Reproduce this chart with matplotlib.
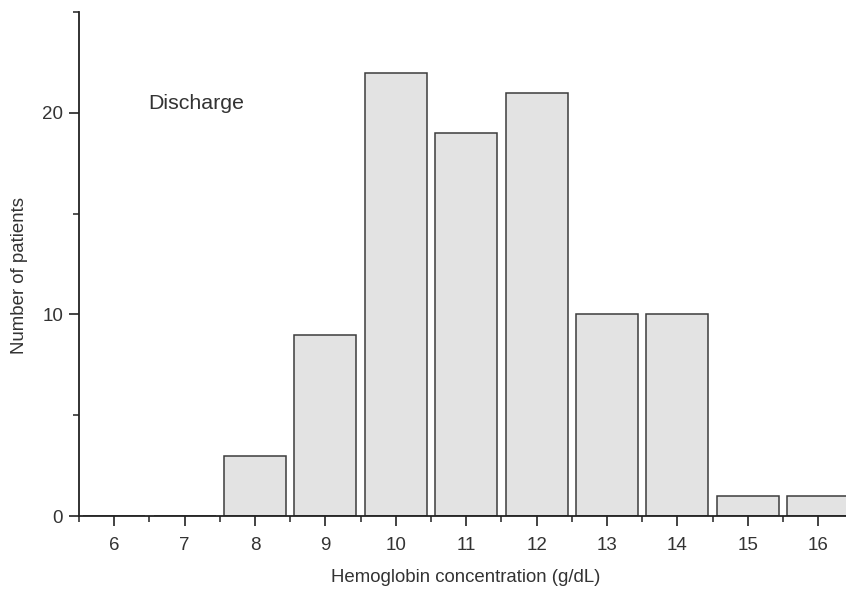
import matplotlib
matplotlib.use("Agg")
import matplotlib.pyplot as plt
from matplotlib.ticker import MultipleLocator

# Hemoglobin at discharge: bin centre (g/dL) and patient count
hb_levels = [6, 7, 8, 9, 10, 11, 12, 13, 14, 15, 16]
patients = [0, 0, 3, 9, 22, 19, 21, 10, 10, 1, 1]

plt.rcParams["font.family"] = ["Liberation Sans", "DejaVu Sans"]

fig = plt.figure(figsize=(8.46, 5.96), dpi=100)
ax = fig.add_axes([0.0934, 0.1342, 0.9154, 0.8456])

ax.bar(hb_levels, patients, width=0.88, color="#e3e3e3",
       edgecolor="#3c3c3c", linewidth=1.1, zorder=2)

ax.set_xlim(5.5, 16.5)
ax.set_ylim(0, 25)
ax.xaxis.set_major_locator(MultipleLocator(1))
ax.xaxis.set_minor_locator(MultipleLocator(0.5))
ax.yaxis.set_major_locator(MultipleLocator(10))
ax.yaxis.set_minor_locator(MultipleLocator(5))

for side in ("top", "right"):
    ax.spines[side].set_visible(False)
for side in ("left", "bottom"):
    ax.spines[side].set_color("#222222")
    ax.spines[side].set_linewidth(1.3)

ax.tick_params(which="major", direction="out", length=7.5, width=1.2,
               colors="#222222", labelsize=13.5, labelcolor="#333333")
ax.tick_params(axis="x", which="major", pad=7.5)
ax.tick_params(axis="y", which="major", pad=4)
ax.tick_params(which="minor", direction="out", length=4, width=1.1,
               colors="#222222")

ax.set_xlabel("Hemoglobin concentration (g/dL)", fontsize=13.4,
              color="#333333")
ax.set_ylabel("Number of patients", fontsize=13.4, color="#333333")
ax.xaxis.set_label_coords(0.4987, -0.106)
ax.yaxis.set_label_coords(-0.066, 0.478)

ax.text(6.49, 20.19, "Discharge", fontsize=15.4, color="#333333",
        ha="left", va="baseline")

fig.savefig("out.png", dpi=100)
